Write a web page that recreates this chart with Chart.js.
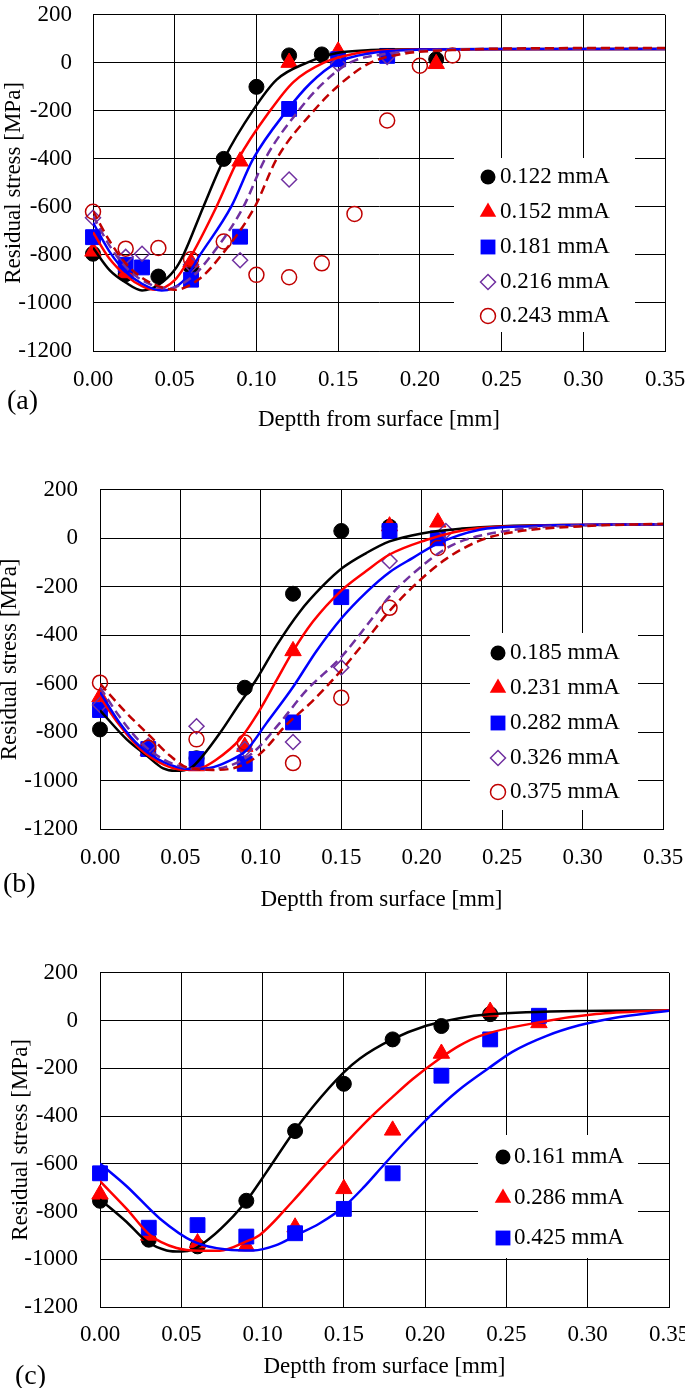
<!DOCTYPE html>
<html>
<head>
<meta charset="utf-8">
<script src="https://cdn.jsdelivr.net/npm/chart.js@4.4.1/dist/chart.umd.min.js"></script>
<style>
  html, body { margin: 0; padding: 0; background: #fff; }
  body { width: 685px; height: 1388px; position: relative; overflow: hidden; }
  canvas { position: absolute; }
  .tag { position: absolute; font: 28px 'Liberation Serif', 'Times New Roman', serif; line-height: 28px; color: #000; }
</style>
</head>
<body>
<canvas id="chartA"></canvas>
<canvas id="chartB"></canvas>
<canvas id="chartC"></canvas>
<div class="tag" style="left:7px;top:386px">(a)</div>
<div class="tag" style="left:3px;top:869px">(b)</div>
<div class="tag" style="left:15px;top:1361px">(c)</div>
<script>
// ---- (a) measured points ----
const a122x = [0, 0.02, 0.04, 0.06, 0.08, 0.10, 0.12, 0.14, 0.21];
const a122y = [-795, -880, -890, -850, -400, -100, 31, 35, 15];
const a152x = [0, 0.02, 0.06, 0.09, 0.12, 0.15, 0.21];
const a152y = [-785, -875, -830, -410, 1, 48, -4];
const a181x = [0, 0.02, 0.03, 0.06, 0.09, 0.12, 0.15, 0.18];
const a181y = [-726, -841, -852, -903, -724, -192, 15, 29];
const a216x = [0, 0.02, 0.03, 0.06, 0.09, 0.12, 0.15, 0.18];
const a216y = [-645, -808, -795, -841, -822, -486, -5, 25];
const a243x = [0, 0.02, 0.04, 0.06, 0.08, 0.10, 0.12, 0.14, 0.16, 0.18, 0.20, 0.22];
const a243y = [-620, -774, -771, -818, -744, -883, -893, -835, -629, -240, -12, 31];

// ---- (a) fitted curves [depth, stress] ----
const fitA122 = [[0,-770],[0.01,-862],[0.02,-915],[0.03,-948],[0.04,-925],[0.05,-862],[0.0553,-800],[0.0675,-600],[0.0802,-400],[0.0977,-200],[0.1124,-70],[0.1307,0],[0.15,42],[0.17,53],[0.2,57],[0.35,58]];
const fitA152 = [[0,-705],[0.01,-815],[0.02,-885],[0.03,-930],[0.038,-945],[0.05,-905],[0.0604,-800],[0.0755,-600],[0.089,-400],[0.1083,-200],[0.1226,-80],[0.141,0],[0.16,38],[0.18,52],[0.22,57],[0.35,58]];
const fitA181 = [[0,-665],[0.01,-785],[0.02,-870],[0.03,-920],[0.042,-948],[0.055,-910],[0.0655,-800],[0.0845,-600],[0.098,-400],[0.1185,-200],[0.133,-85],[0.149,0],[0.17,40],[0.2,55],[0.25,58],[0.35,58]];
const fitA216 = [[0,-637],[0.01,-760],[0.02,-850],[0.03,-905],[0.046,-940],[0.06,-895],[0.0726,-800],[0.092,-600],[0.1053,-400],[0.1257,-200],[0.14,-90],[0.157,0],[0.18,38],[0.21,53],[0.25,58],[0.35,60]];
const fitA243 = [[0,-617],[0.01,-740],[0.02,-835],[0.03,-895],[0.04,-930],[0.05,-945],[0.065,-900],[0.0787,-800],[0.099,-600],[0.1124,-400],[0.135,-200],[0.151,-90],[0.1696,0],[0.19,38],[0.22,53],[0.26,60],[0.35,62]];

// ---- (b) measured points ----
const b185x = [0, 0.03, 0.06, 0.09, 0.12, 0.15, 0.18];
const b185y = [-789, -870, -908, -617, -229, 30, 48];
const b231x = [0, 0.03, 0.06, 0.09, 0.12, 0.18, 0.21];
const b231y = [-655, -877, -940, -860, -465, 50, 66];
const b282x = [0, 0.03, 0.06, 0.09, 0.12, 0.15, 0.18, 0.21];
const b282y = [-709, -870, -911, -931, -760, -243, 30, 0];
const b326x = [0, 0.03, 0.06, 0.09, 0.12, 0.15, 0.18, 0.215];
const b326y = [-688, -857, -776, -870, -841, -533, -94, 30];
const b375x = [0, 0.03, 0.06, 0.09, 0.12, 0.15, 0.18, 0.21];
const b375y = [-596, -865, -830, -843, -928, -658, -287, -40];

// ---- (b) fitted curves ----
const fitB185 = [[0,-710],[0.0166,-830],[0.029,-897],[0.0393,-950],[0.047,-960],[0.056,-950],[0.064,-897],[0.075,-800],[0.087,-680],[0.097,-585],[0.11,-440],[0.124,-305],[0.1386,-196],[0.151,-121],[0.1655,-61],[0.18,-13],[0.2,20],[0.225,40],[0.25,50],[0.3,55],[0.35,57]];
const fitB231 = [[0,-655],[0.012,-770],[0.025,-870],[0.04,-935],[0.052,-955],[0.062,-950],[0.072,-915],[0.0869,-830],[0.0993,-709],[0.1097,-587],[0.12,-466],[0.1324,-344],[0.15,-216],[0.1655,-135],[0.18,-67],[0.2028,-7],[0.22,25],[0.236,42],[0.27,52],[0.35,58]];
const fitB282 = [[0,-635],[0.012,-760],[0.025,-860],[0.04,-925],[0.055,-952],[0.068,-948],[0.08,-920],[0.091,-875],[0.1035,-763],[0.12,-614],[0.1345,-466],[0.15,-331],[0.1655,-223],[0.18,-140],[0.1945,-81],[0.209,-25],[0.236,35],[0.267,50],[0.35,58]];
const fitB326 = [[0,-615],[0.012,-735],[0.025,-840],[0.04,-915],[0.055,-950],[0.065,-955],[0.08,-940],[0.0952,-884],[0.1117,-763],[0.1283,-628],[0.15,-490],[0.1676,-345],[0.18,-240],[0.2048,-90],[0.22,-25],[0.236,10],[0.267,42],[0.3,53],[0.35,58]];
const fitB375 = [[0,-600],[0.0166,-722],[0.031,-816],[0.0434,-897],[0.055,-948],[0.07,-956],[0.085,-945],[0.0993,-891],[0.1159,-770],[0.1324,-670],[0.15,-545],[0.1655,-420],[0.18,-300],[0.1986,-175],[0.2152,-85],[0.236,-10],[0.2566,25],[0.298,49],[0.35,60]];

// ---- (c) measured points ----
const c161x = [0, 0.03, 0.06, 0.09, 0.12, 0.15, 0.18, 0.21, 0.24];
const c161y = [-755, -918, -946, -755, -463, -265, -79, -23, 27];
const c286x = [0, 0.03, 0.06, 0.09, 0.12, 0.15, 0.18, 0.21, 0.24, 0.27];
const c286y = [-728, -900, -932, -945, -866, -705, -460, -138, 38, -10];
const c425x = [0, 0.03, 0.06, 0.09, 0.12, 0.15, 0.18, 0.21, 0.24, 0.27];
const c425y = [-640, -868, -857, -905, -891, -789, -640, -231, -79, 20];

// ---- (c) fitted curves ----
const fitC161 = [[0,-749],[0.0164,-844],[0.0287,-925],[0.041,-963],[0.05,-968],[0.0573,-959],[0.0676,-912],[0.0819,-820],[0.0901,-755],[0.1024,-635],[0.1188,-470],[0.1311,-360],[0.1495,-220],[0.1597,-160],[0.18,-78],[0.2006,-22],[0.2211,10],[0.2396,26],[0.2948,40],[0.35,42]];
const fitC286 = [[0,-673],[0.0164,-789],[0.0307,-898],[0.0471,-953],[0.0614,-964],[0.0737,-964],[0.0901,-925],[0.0983,-898],[0.1188,-755],[0.1351,-630],[0.1495,-525],[0.1658,-410],[0.18,-320],[0.1924,-245],[0.2088,-160],[0.2211,-105],[0.2334,-65],[0.2703,-7],[0.3051,27],[0.35,43]];
const fitC425 = [[0,-599],[0.0164,-694],[0.0369,-830],[0.0573,-925],[0.0778,-959],[0.0942,-963],[0.108,-942],[0.121,-898],[0.135,-850],[0.15,-780],[0.162,-700],[0.1745,-605],[0.19,-490],[0.203,-400],[0.22,-295],[0.239,-200],[0.2539,-130],[0.2744,-65],[0.2948,-20],[0.3153,10],[0.35,41]];

const FONT = "'Liberation Serif', 'Times New Roman', serif";
Chart.defaults.font.family = FONT;
Chart.defaults.color = '#000';

const STY = {
  black:   { color: '#000000', shape: 'circle',   r: 7.5,  fill: true },
  red:     { color: '#FF0000', shape: 'triangle', r: 9.5,  fill: true },
  blue:    { color: '#0000FF', shape: 'rect',     r: 10.5, fill: true },
  purple:  { color: '#7030A0', shape: 'rectRot',  r: 7.5,  fill: false },
  darkred: { color: '#C00000', shape: 'circle',   r: 7.5,  fill: false }
};

function drawMark(ctx, st, x, y) {
  const r = st.r;
  ctx.save();
  ctx.beginPath();
  if (st.shape === 'circle') ctx.arc(x, y, r, 0, Math.PI * 2);
  else if (st.shape === 'triangle') { ctx.moveTo(x, y - r); ctx.lineTo(x + 0.866 * r, y + 0.5 * r); ctx.lineTo(x - 0.866 * r, y + 0.5 * r); ctx.closePath(); }
  else if (st.shape === 'rect') { const h = r * Math.SQRT1_2; ctx.rect(x - h, y - h, 2 * h, 2 * h); }
  else { ctx.moveTo(x, y - r); ctx.lineTo(x + r, y); ctx.lineTo(x, y + r); ctx.lineTo(x - r, y); ctx.closePath(); }
  if (st.fill) { ctx.fillStyle = st.color; ctx.fill(); }
  else { ctx.lineWidth = 1.5; ctx.strokeStyle = st.color; ctx.stroke(); }
  ctx.restore();
}

// legend box drawn inside the plot like the Excel one
const boxLegend = {
  id: 'boxLegend',
  afterDraw(chart, args, o) {
    const ctx = chart.ctx, dx = o.dx, dy = o.dy;
    ctx.save();
    ctx.fillStyle = '#fff';
    ctx.fillRect(o.box[0] - dx, o.box[1] - dy, o.box[2] - o.box[0], o.box[3] - o.box[1]);
    ctx.font = '23px ' + FONT;
    ctx.textBaseline = 'middle';
    o.items.forEach((it, i) => {
      drawMark(ctx, STY[it.key], o.mx - dx, o.rows[i] - dy);
      ctx.fillStyle = '#000';
      ctx.fillText(it.label, o.tx - dx, o.rows[i] - dy);
    });
    ctx.restore();
  }
};

const toPts = (xs, ys) => xs.map((x, i) => ({ x: x, y: ys[i] }));
const toLine = pairs => pairs.map(p => ({ x: p[0], y: p[1] }));

function pointSet(key, xs, ys, order) {
  const st = STY[key];
  return {
    data: toPts(xs, ys), showLine: false, order: order, clip: false,
    pointStyle: st.shape, pointRadius: st.r,
    backgroundColor: st.fill ? st.color : 'rgba(0,0,0,0)',
    borderColor: st.color, borderWidth: st.fill ? 1 : 1.5
  };
}

function curveSet(key, pairs, dashed, order) {
  return {
    data: toLine(pairs), showLine: true, order: order, pointRadius: 0,
    borderColor: STY[key].color, borderWidth: 2.5, borderDash: dashed ? [9, 5] : [],
    cubicInterpolationMode: 'monotone', fill: false
  };
}

function build(id, g, datasets, legend) {
  const cv = document.getElementById(id);
  const xH = g.xTitle - g.B + 13.8;
  const W = g.R + 10 + 40;
  const H = Math.ceil(28 + (g.B - g.T) + xH + 8);
  const padBottom = H - 28 - (g.B - g.T) - xH;
  cv.width = W; cv.height = H;
  cv.style.width = W + 'px'; cv.style.height = H + 'px';
  cv.style.left = '-10px'; cv.style.top = (g.T - 28) + 'px';
  legend.dx = -10; legend.dy = g.T - 28;

  new Chart(cv.getContext('2d'), {
    type: 'scatter',
    data: { datasets: datasets },
    plugins: [boxLegend],
    options: {
      responsive: false, animation: false, devicePixelRatio: 1,
      layout: { padding: { left: 0, right: 40, top: 28, bottom: padBottom } },
      plugins: { legend: { display: false }, tooltip: { enabled: false }, boxLegend: legend },
      scales: {
        x: {
          type: 'linear', min: 0, max: 0.35,
          ticks: { stepSize: 0.05, callback: v => v.toFixed(2), padding: g.xPad, color: '#000', font: { size: 23 }, maxRotation: 0 },
          grid: { color: '#000', lineWidth: 1, drawTicks: false },
          border: { color: '#000', width: 1 },
          title: { display: true, text: 'Deptth from surface [mm]', color: '#000', font: { size: 23 }, padding: 0 },
          afterFit: s => { s.height = xH; }
        },
        y: {
          type: 'linear', min: -1200, max: 200,
          ticks: { stepSize: 200, callback: v => String(v), padding: g.yPad, color: '#000', font: { size: 23 } },
          grid: { color: '#000', lineWidth: 1, drawTicks: false },
          border: { color: '#000', width: 1 },
          title: { display: true, text: 'Residual stress [MPa]', color: '#000', font: { size: 23 }, padding: { top: g.yTitlePad, bottom: 0 } },
          afterFit: s => { s.width = g.L + 10; }
        }
      }
    }
  });
}

build('chartA',
  { L: 93, R: 665, T: 8, B: 351, xTitle: 420, xPad: 15, yPad: 21, yTitlePad: 10 },
  [
    pointSet('black', a122x, a122y, 20), pointSet('red', a152x, a152y, 19), pointSet('blue', a181x, a181y, 18),
    pointSet('purple', a216x, a216y, 17), pointSet('darkred', a243x, a243y, 16),
    curveSet('black', fitA122, false, 5), curveSet('red', fitA152, false, 4), curveSet('blue', fitA181, false, 3),
    curveSet('purple', fitA216, true, 2), curveSet('darkred', fitA243, true, 1)
  ],
  { box: [454, 158, 635, 332], rows: [177, 212, 247, 282, 316], mx: 488, tx: 500,
    items: [{ key: 'black', label: '0.122 mmA' }, { key: 'red', label: '0.152 mmA' }, { key: 'blue', label: '0.181 mmA' },
            { key: 'purple', label: '0.216 mmA' }, { key: 'darkred', label: '0.243 mmA' }] });

build('chartB',
  { L: 100, R: 663, T: 482, B: 829, xTitle: 900, xPad: 15, yPad: 22, yTitlePad: 6 },
  [
    pointSet('black', b185x, b185y, 20), pointSet('red', b231x, b231y, 19), pointSet('blue', b282x, b282y, 18),
    pointSet('purple', b326x, b326y, 17), pointSet('darkred', b375x, b375y, 16),
    curveSet('black', fitB185, false, 5), curveSet('red', fitB231, false, 4), curveSet('blue', fitB282, false, 3),
    curveSet('purple', fitB326, true, 2), curveSet('darkred', fitB375, true, 1)
  ],
  { box: [470, 633, 638, 810], rows: [653, 688, 723, 758, 792], mx: 498, tx: 510,
    items: [{ key: 'black', label: '0.185 mmA' }, { key: 'red', label: '0.231 mmA' }, { key: 'blue', label: '0.282 mmA' },
            { key: 'purple', label: '0.326 mmA' }, { key: 'darkred', label: '0.375 mmA' }] });

build('chartC',
  { L: 100, R: 669, T: 965, B: 1307, xTitle: 1367, xPad: 14, yPad: 22, yTitlePad: 17 },
  [
    pointSet('black', c161x, c161y, 20), pointSet('red', c286x, c286y, 19), pointSet('blue', c425x, c425y, 18),
    curveSet('black', fitC161, false, 5), curveSet('red', fitC286, false, 4), curveSet('blue', fitC425, false, 3)
  ],
  { box: [478, 1135, 638, 1258], rows: [1157, 1198, 1238], mx: 503, tx: 514,
    items: [{ key: 'black', label: '0.161 mmA' }, { key: 'red', label: '0.286 mmA' }, { key: 'blue', label: '0.425 mmA' }] });
</script>
</body>
</html>
